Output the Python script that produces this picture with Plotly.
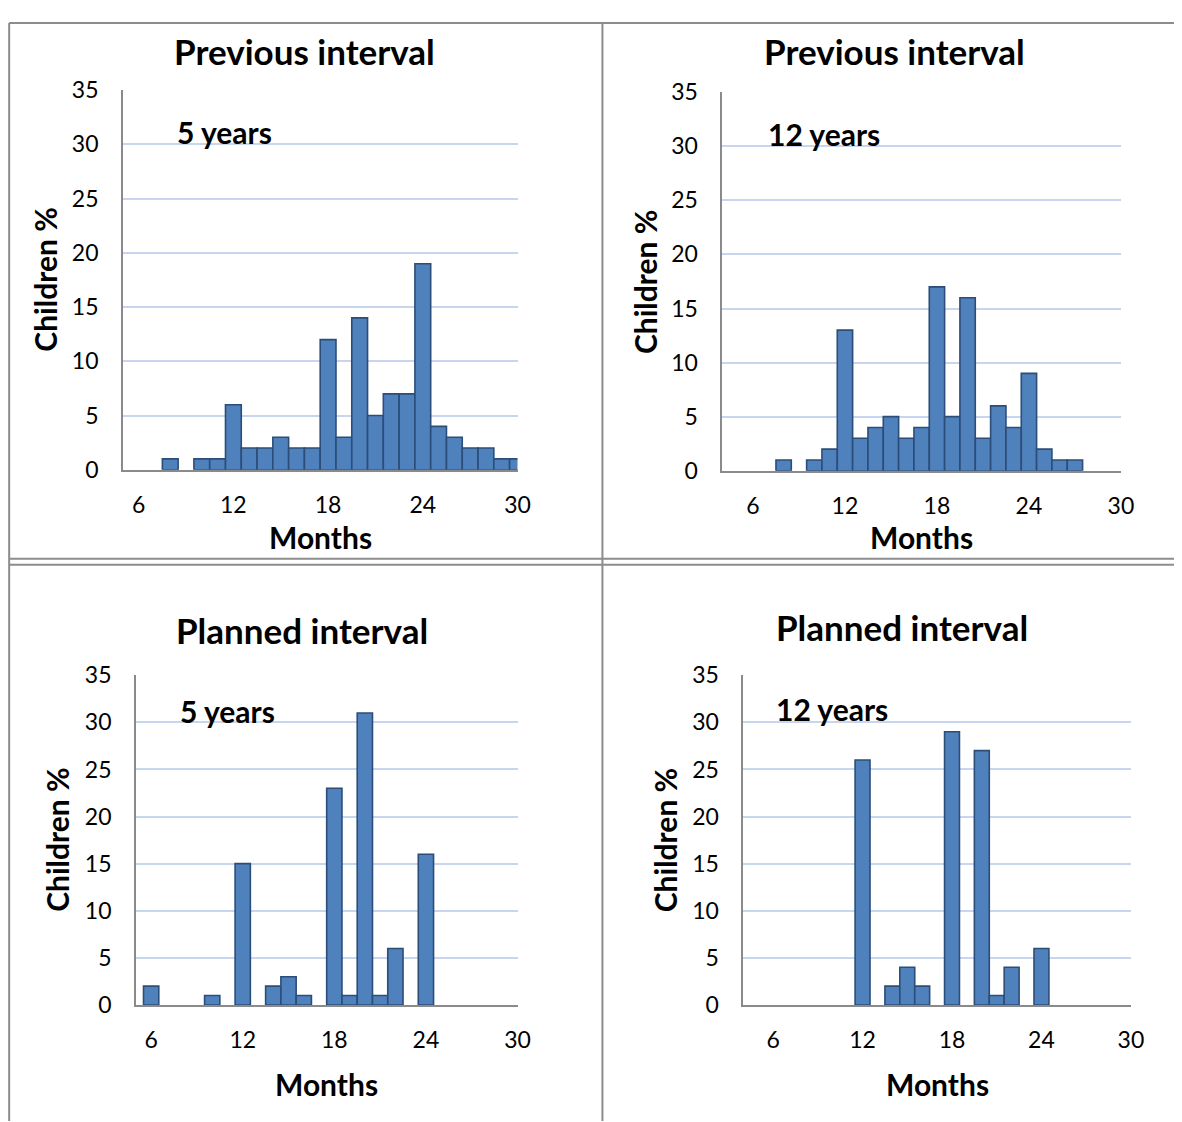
import plotly.graph_objects as go

# empirical mapping from figure pixels to the photographed picture
SX, OX = 0.99, 8.0
SY, OY = 0.9757, 22.4
W, H = 1186, 1127

# ---------------- data ----------------
months_prev5 = [8, 10, 11, 12, 13, 14, 15, 16, 17, 18, 19, 20, 21, 22, 23, 24, 25, 26, 27, 28, 29, 30]
pct_prev5 = [1, 1, 1, 6, 2, 2, 3, 2, 2, 12, 3, 14, 5, 7, 7, 19, 4, 3, 2, 2, 1, 1]

months_prev12 = [8, 10, 11, 12, 13, 14, 15, 16, 17, 18, 19, 20, 21, 22, 23, 24, 25, 26, 27]
pct_prev12 = [1, 1, 2, 13, 3, 4, 5, 3, 4, 17, 5, 16, 3, 6, 4, 9, 2, 1, 1]

months_plan5 = [6, 10, 12, 14, 15, 16, 18, 19, 20, 21, 22, 24]
pct_plan5 = [2, 1, 15, 2, 3, 1, 23, 1, 31, 1, 6, 16]

months_plan12 = [12, 14, 15, 16, 18, 20, 21, 22, 24]
pct_plan12 = [26, 2, 4, 2, 29, 27, 1, 4, 6]

panel_titles = ["Previous interval", "Previous interval", "Planned interval", "Planned interval"]
age_labels = ["5 years", "12 years", "5 years", "12 years"]
x_ticks = [6, 12, 18, 24, 30]
y_ticks = [0, 5, 10, 15, 20, 25, 30, 35]
x_title = "Months"
y_title = "Children %"

series = [(months_prev5, pct_prev5), (months_prev12, pct_prev12),
          (months_plan5, pct_plan5), (months_plan12, pct_plan12)]

# ---------------- layout geometry (picture pixels) ----------------
areas = [
    dict(l=123, r=518, t=90, b=470, x0=5),
    dict(l=723, r=1122, t=92, b=471, x0=4),
    dict(l=136, r=518, t=675, b=1005, x0=5),
    dict(l=744, r=1132, t=675, b=1005, x0=4),
]
title_pos = [(305, 51), (895, 51), (302, 630), (903, 627)]
age_pos = [(175, 132), (767, 134), (178, 711), (775, 709)]
xt_pos = [(321, 537), (922, 537), (327, 1084), (938, 1084)]
yt_pos = [(45, 280), (645, 282), (57, 840), (666, 840)]

FONT = "Lato, Open Sans, sans-serif"
BAR_FILL = "#4f81bd"
BAR_LINE = "#2c4d77"
GRID = "#c8d5ee"
AXIS = "#8a8a8a"


def px(x):
    return ((x - OX) / SX) / W


def py(y):
    return 1 - ((y - OY) / SY) / H


def clamp(v, lo=0.001, hi=0.999):
    return min(max(v, lo), hi)


fig = go.Figure()
layout = dict(
    width=W, height=H, margin=dict(l=0, r=0, t=0, b=0),
    paper_bgcolor="white", plot_bgcolor="white", showlegend=False,
    font=dict(family=FONT, color="black"),
)

annotations = []
for i, ((xs, ys), a) in enumerate(zip(series, areas)):
    n = "" if i == 0 else str(i + 1)
    fig.add_trace(go.Bar(
        x=xs, y=ys, width=1, xaxis="x" + n, yaxis="y" + n,
        marker=dict(color=BAR_FILL, line=dict(color=BAR_LINE, width=1.6)),
        hoverinfo="x+y",
    ))
    layout["xaxis" + n] = dict(
        domain=[px(a["l"]), px(a["r"])], anchor="y" + n,
        range=[a["x0"], 30], tickmode="array", tickvals=x_ticks,
        showgrid=False, zeroline=False, showline=True, linecolor=AXIS, linewidth=1.5,
        ticks="", ticklabelstandoff=14, tickfont=dict(size=23, family=FONT, color="black"),
    )
    layout["yaxis" + n] = dict(
        domain=[py(a["b"]), py(a["t"])], anchor="x" + n,
        range=[0, 35.05], tickmode="array", tickvals=y_ticks,
        showgrid=True, gridcolor=GRID, gridwidth=1.5, zeroline=False,
        showline=True, linecolor=AXIS, linewidth=1.5,
        ticks="", ticklabelstandoff=18, tickfont=dict(size=23, family=FONT, color="black"),
    )
    tx, ty = title_pos[i]
    annotations.append(dict(x=px(tx), y=py(ty), xref="paper", yref="paper", text="<b>%s</b>" % panel_titles[i],
                            showarrow=False, xanchor="center", yanchor="middle", font=dict(size=35, family=FONT)))
    ax_, ay_ = age_pos[i]
    annotations.append(dict(x=px(ax_), y=py(ay_), xref="paper", yref="paper", text="<b>%s</b>" % age_labels[i],
                            showarrow=False, xanchor="left", yanchor="middle", font=dict(size=30, family=FONT)))
    mx, my = xt_pos[i]
    annotations.append(dict(x=px(mx), y=py(my), xref="paper", yref="paper", text="<b>%s</b>" % x_title,
                            showarrow=False, xanchor="center", yanchor="middle", font=dict(size=30, family=FONT)))
    cx, cy = yt_pos[i]
    annotations.append(dict(x=px(cx), y=py(cy), xref="paper", yref="paper", text="<b>%s</b>" % y_title,
                            showarrow=False, xanchor="center", yanchor="middle", textangle=-90,
                            font=dict(size=30, family=FONT)))

layout["annotations"] = annotations

# panel frames
BORDER = "#8c8c8c"
shapes = []
for (x0, y0, x1, y1) in [(7, 8, 1182, 8), (7, 8, 7, 1122), (603, 8, 603, 1122),
                         (7, 559, 1182, 559), (7, 565, 1182, 565)]:
    shapes.append(dict(type="line", xref="paper", yref="paper",
                       x0=clamp(px(x0)), y0=clamp(py(y0)), x1=clamp(px(x1)), y1=clamp(py(y1)),
                       line=dict(color=BORDER, width=2)))
layout["shapes"] = shapes

fig.update_layout(**layout)
fig.write_html("out.html")
